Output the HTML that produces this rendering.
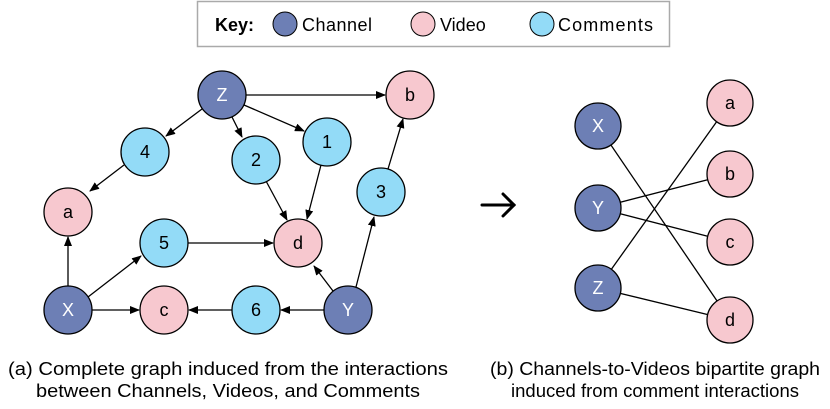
<!DOCTYPE html>
<html><head><style>body{margin:0;background:#fff}svg{display:block}text{font-family:"Liberation Sans",Arial,sans-serif}</style></head><body>
<svg width="830" height="409" viewBox="0 0 830 409" xmlns="http://www.w3.org/2000/svg">
<defs><marker id="ah" markerWidth="10" markerHeight="8" refX="9" refY="4" orient="auto" markerUnits="userSpaceOnUse"><path d="M0,0 L10,4 L0,8 z" fill="#000"/></marker></defs>
<rect x="197.5" y="1.5" width="472" height="45" fill="#fff" stroke="#aaa" stroke-width="1.5"/>
<text x="215" y="31" font-size="18" font-weight="bold">Key:</text>
<circle cx="285" cy="24" r="12" fill="#6d7fb5" stroke="#000"/><text x="302" y="31" font-size="18" textLength="70">Channel</text>
<circle cx="423" cy="24" r="12" fill="#f7c8cf" stroke="#000"/><text x="440" y="31" font-size="18">Video</text>
<circle cx="542" cy="24" r="12" fill="#93dbf7" stroke="#000"/><text x="558" y="31" font-size="18" textLength="95">Comments</text>
<g stroke="#000" stroke-width="1.3" marker-end="url(#ah)">
<line x1="246" y1="95" x2="385" y2="95"/>
<line x1="202" y1="109" x2="166" y2="136"/>
<line x1="232" y1="117" x2="242" y2="137"/>
<line x1="244" y1="105" x2="304" y2="131"/>
<line x1="124" y1="165" x2="90" y2="191"/>
<line x1="266" y1="181" x2="287" y2="220"/>
<line x1="321" y1="165" x2="307" y2="219"/>
<line x1="388" y1="169" x2="403" y2="119"/>
<line x1="188" y1="243" x2="273" y2="243"/>
<line x1="68" y1="286" x2="68" y2="237"/>
<line x1="88" y1="297" x2="141" y2="256"/>
<line x1="92" y1="310" x2="139" y2="310"/>
<line x1="232" y1="310" x2="189" y2="310"/>
<line x1="324" y1="310" x2="281" y2="310"/>
<line x1="333" y1="291" x2="314" y2="266"/>
<line x1="356" y1="287" x2="374" y2="217"/>
</g>
<g stroke="#000" stroke-width="1.3">
<circle cx="222" cy="95" r="24" fill="#6d7fb5"/>
<circle cx="410" cy="95" r="24" fill="#f7c8cf"/>
<circle cx="145" cy="152" r="24" fill="#93dbf7"/>
<circle cx="256" cy="160" r="24" fill="#93dbf7"/>
<circle cx="327" cy="142" r="24" fill="#93dbf7"/>
<circle cx="68" cy="212" r="24" fill="#f7c8cf"/>
<circle cx="381" cy="192" r="24" fill="#93dbf7"/>
<circle cx="164" cy="243" r="24" fill="#93dbf7"/>
<circle cx="298" cy="243" r="24" fill="#f7c8cf"/>
<circle cx="68" cy="310" r="24" fill="#6d7fb5"/>
<circle cx="164" cy="310" r="24" fill="#f7c8cf"/>
<circle cx="256" cy="310" r="24" fill="#93dbf7"/>
<circle cx="348" cy="310" r="24" fill="#6d7fb5"/>
</g>
<g font-size="18" text-anchor="middle">
<text x="222" y="101" fill="#fff">Z</text><text x="410" y="101">b</text><text x="145" y="158">4</text><text x="256" y="166">2</text><text x="327" y="148">1</text><text x="68" y="218">a</text><text x="381" y="198">3</text><text x="164" y="249">5</text><text x="298" y="249">d</text><text x="68" y="316" fill="#fff">X</text><text x="164" y="316">c</text><text x="256" y="316">6</text><text x="348" y="316" fill="#fff">Y</text>
</g>
<g stroke="#000" stroke-width="3" fill="none" stroke-linecap="round">
<line x1="482" y1="205" x2="514" y2="205"/>
<path d="M503,194 L514,205 L503,216"/>
</g>
<g stroke="#000" stroke-width="1.3">
<line x1="598" y1="126" x2="730" y2="320"/>
<line x1="598" y1="208" x2="730" y2="174"/>
<line x1="598" y1="208" x2="730" y2="242"/>
<line x1="598" y1="288" x2="730" y2="103"/>
<line x1="598" y1="288" x2="730" y2="320"/>
<circle cx="598" cy="126" r="23" fill="#6d7fb5"/>
<circle cx="598" cy="208" r="23" fill="#6d7fb5"/>
<circle cx="598" cy="288" r="23" fill="#6d7fb5"/>
<circle cx="730" cy="103" r="23" fill="#f7c8cf"/>
<circle cx="730" cy="174" r="23" fill="#f7c8cf"/>
<circle cx="730" cy="242" r="23" fill="#f7c8cf"/>
<circle cx="730" cy="320" r="23" fill="#f7c8cf"/>
</g>
<g font-size="18" text-anchor="middle">
<text x="598" y="132" fill="#fff">X</text><text x="598" y="214" fill="#fff">Y</text><text x="598" y="294" fill="#fff">Z</text>
<text x="730" y="109">a</text><text x="730" y="180">b</text><text x="730" y="248">c</text><text x="730" y="326">d</text>
</g>
<g font-size="18">
<text x="8" y="375" textLength="440" lengthAdjust="spacingAndGlyphs">(a) Complete graph induced from the interactions</text>
<text x="36" y="397" textLength="384" lengthAdjust="spacingAndGlyphs">between Channels, Videos, and Comments</text>
<text x="490" y="375" textLength="330" lengthAdjust="spacingAndGlyphs">(b) Channels-to-Videos bipartite graph</text>
<text x="511" y="397" textLength="288" lengthAdjust="spacingAndGlyphs">induced from comment interactions</text>
</g>
</svg>
</body></html>
